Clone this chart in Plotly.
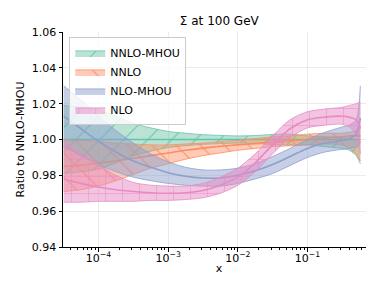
import plotly.graph_objects as go

# x grid (momentum fraction)
x_vals = [3.16e-5, 5.62e-5, 1.0e-4, 1.78e-4, 3.16e-4, 5.62e-4, 1.0e-3, 1.78e-3,
          3.16e-3, 5.62e-3, 1.0e-2, 1.78e-2, 3.16e-2, 5.62e-2, 0.1, 0.178,
          0.316, 0.398, 0.501, 0.575]

series_names = ["NNLO-MHOU", "NNLO", "NLO-MHOU", "NLO"]

nnlo_mhou_c = [1.0] * 20
nnlo_mhou_hi = [1.019, 1.018, 1.0165, 1.013, 1.009, 1.0065, 1.0045, 1.0035, 1.0027, 1.0023,
                1.002, 1.0022, 1.0028, 1.003, 1.002, 1.0015, 1.001, 1.0005, 1.0, 0.999]
nnlo_mhou_lo = [0.981, 0.982, 0.9835, 0.987, 0.991, 0.9935, 0.9955, 0.9965, 0.9973, 0.9977,
                0.998, 0.9978, 0.9972, 0.997, 0.997, 0.996, 0.995, 0.994, 0.991, 0.9865]

nnlo_c = [0.985, 0.9857, 0.9868, 0.988, 0.9895, 0.991, 0.9925, 0.994, 0.9952, 0.9962,
          0.997, 0.9977, 0.9985, 0.9993, 1.0, 1.001, 1.0015, 1.002, 1.002, 1.002]
nnlo_hi = [1.0, 0.9995, 0.999, 0.998, 0.9975, 0.997, 0.997, 0.9975, 0.998, 0.9988,
           0.9995, 1.0005, 1.0015, 1.002, 1.003, 1.0035, 1.0035, 1.004, 1.005, 1.008]
nnlo_lo = [0.971, 0.972, 0.974, 0.977, 0.9805, 0.984, 0.9865, 0.989, 0.991, 0.9925,
           0.994, 0.995, 0.996, 0.9965, 0.997, 0.9975, 0.997, 0.995, 0.992, 0.988]

nlo_mhou_c = [1.013, 1.006, 0.999, 0.993, 0.988, 0.9845, 0.9815, 0.9795, 0.9785, 0.9785,
              0.980, 0.9825, 0.986, 0.9905, 0.995, 0.998, 0.9995, 1.0005, 1.003, 1.012]
nlo_mhou_hi = [1.030, 1.022, 1.013, 1.005, 0.998, 0.992, 0.9875, 0.9845, 0.983, 0.983,
               0.984, 0.9865, 0.9905, 0.995, 1.0, 1.004, 1.007, 1.008, 1.011, 1.030]
nlo_mhou_lo = [0.996, 0.991, 0.986, 0.982, 0.979, 0.977, 0.9755, 0.9745, 0.974, 0.974,
               0.9755, 0.978, 0.981, 0.9855, 0.990, 0.993, 0.9945, 0.995, 0.996, 0.998]

nlo_c = [0.978, 0.9755, 0.9735, 0.972, 0.971, 0.9703, 0.970, 0.9703, 0.9715, 0.9745,
         0.979, 0.987, 0.997, 1.006, 1.011, 1.0125, 1.013, 1.0125, 1.011, 1.006]
nlo_hi = [0.999, 0.992, 0.986, 0.980, 0.976, 0.9745, 0.974, 0.974, 0.9755, 0.979,
          0.984, 0.992, 1.002, 1.011, 1.0155, 1.017, 1.018, 1.019, 1.020, 1.021]
nlo_lo = [0.965, 0.965, 0.9655, 0.9655, 0.9655, 0.966, 0.966, 0.9665, 0.9675, 0.970,
          0.9745, 0.982, 0.992, 1.001, 1.0065, 1.008, 1.0085, 1.007, 1.003, 0.992]

y_ticks = [0.94, 0.96, 0.98, 1.00, 1.02, 1.04, 1.06]
x_tick_vals = [1e-4, 1e-3, 1e-2, 1e-1]
x_tick_text = ["10<sup>−4</sup>", "10<sup>−3</sup>", "10<sup>−2</sup>", "10<sup>−1</sup>"]

colors = ["#66c2a5", "#fc8d62", "#8da0cb", "#e78ac3"]
fills = ["rgba(102,194,165,0.45)", "rgba(252,141,98,0.45)",
         "rgba(141,160,203,0.5)", "rgba(231,138,195,0.5)"]
patterns = ["/", "\\", "", "+"]

data = [
    (nnlo_mhou_c, nnlo_mhou_lo, nnlo_mhou_hi),
    (nnlo_c, nnlo_lo, nnlo_hi),
    (nlo_mhou_c, nlo_mhou_lo, nlo_mhou_hi),
    (nlo_c, nlo_lo, nlo_hi),
]

fig = go.Figure()
for name, (c, lo, hi), col, fc, pat in zip(series_names, data, colors, fills, patterns):
    fig.add_trace(go.Scatter(x=x_vals, y=lo, mode="lines", line=dict(color=col, width=0.8, shape="spline", smoothing=0.8),
                             showlegend=False, legendgroup=name, hoverinfo="skip"))
    fp = dict(shape=pat, fgcolor=col, bgcolor=fc, size=17, solidity=0.06, fillmode="replace") if pat else None
    kw = dict(fillpattern=fp) if fp else {}
    fig.add_trace(go.Scatter(x=x_vals, y=hi, mode="lines", fill="tonexty", fillcolor=fc,
                             line=dict(color=col, width=0.8, shape="spline", smoothing=0.8),
                             name=name, legendgroup=name, showlegend=True, **kw))
    fig.add_trace(go.Scatter(x=x_vals, y=c, mode="lines", line=dict(color=col, width=1.6, shape="spline", smoothing=0.8),
                             showlegend=False, legendgroup=name))

minor_vals = []
for e in range(-5, 0):
    for m in range(2, 10):
        minor_vals.append(m * 10 ** e)

fig.update_layout(
    width=374, height=281,
    margin=dict(l=55, r=7, t=24, b=42),
    paper_bgcolor="white", plot_bgcolor="white",
    font=dict(family="DejaVu Sans", size=11, color="black"),
    title=dict(text="Σ at 100 GeV", x=0.565, xanchor="center", y=0.955, yanchor="middle",
               font=dict(size=12, family="DejaVu Sans")),
    legend=dict(x=0.02, y=0.975, xanchor="left", yanchor="top", bgcolor="rgba(255,255,255,0.8)",
                bordercolor="#cccccc", borderwidth=1, font=dict(size=11), tracegroupgap=0,
                itemwidth=30),
    showlegend=True,
)
fig.update_xaxes(type="log", range=[-4.51, -0.03], tickvals=x_tick_vals, ticktext=x_tick_text,
                 showgrid=True, gridcolor="#ebebeb", gridwidth=1, showline=True, linecolor="black",
                 linewidth=1, ticks="outside", ticklen=3.5, tickcolor="black", zeroline=False,
                 ticklabelstandoff=-3,
                 title=dict(text="x", standoff=0, font=dict(size=11)),
                 minor=dict(tickvals=minor_vals, ticks="outside", ticklen=2, tickcolor="black", showgrid=False))
fig.update_yaxes(range=[0.94, 1.06], tickvals=y_ticks, tickformat=".2f",
                 showgrid=True, gridcolor="#ebebeb", gridwidth=1, showline=True, linecolor="black",
                 linewidth=1, ticks="outside", ticklen=3.5, tickcolor="black", zeroline=False,
                 title=dict(text="Ratio to NNLO-MHOU", standoff=4, font=dict(size=11)))

fig.write_html("out.html")
